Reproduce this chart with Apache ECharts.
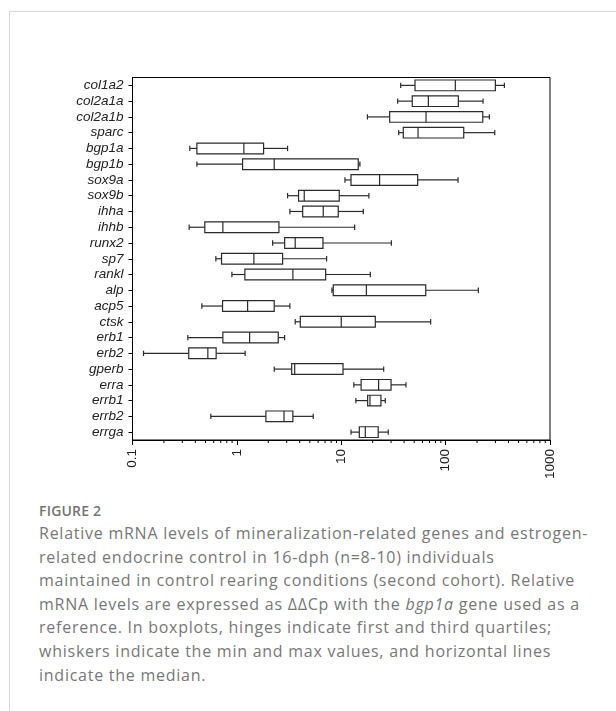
<!DOCTYPE html>
<html>
<head>
<meta charset="utf-8">
<script src="https://cdn.jsdelivr.net/npm/echarts@6/dist/echarts.min.js"></script>
<style>
  html, body { margin: 0; padding: 0; background: #fff; }
  #frame { position: absolute; left: 9px; top: 11px; width: 620px; height: 720px;
           border-left: 1px solid #d9d9d9; border-top: 1px solid #d9d9d9; }
  #chart { position: absolute; left: 0; top: 0; width: 616px; height: 500px; }
  #cap { position: absolute; left: 39px; top: 500px; white-space: nowrap;
         font-family: "Open Sans", sans-serif; color: #777; }
  #cap .fig { font-size: 14px; font-weight: 600; line-height: 22px; color: #737373; letter-spacing: 0.2px; }
  #cap .txt { font-size: 16px; line-height: 23.6px; letter-spacing: 0.75px; margin-top: 0px; }
</style>
</head>
<body>
<div id="frame"></div>
<div id="chart"></div>
<div id="cap">
  <div class="fig">FIGURE 2</div>
  <div class="txt">Relative mRNA levels of mineralization-related genes and estrogen-<br>related endocrine control in 16-dph (n=8-10) individuals<br>maintained in control rearing conditions (second cohort). Relative<br>mRNA levels are expressed as ΔΔCp with the <i>bgp1a</i> gene used as a<br>reference. In boxplots, hinges indicate first and third quartiles;<br>whiskers indicate the min and max values, and horizontal lines<br>indicate the median.</div>
</div>
<script>
const genes = ['col1a2','col2a1a','col2a1b','sparc','bgp1a','bgp1b','sox9a','sox9b','ihha','ihhb','runx2','sp7','rankl','alp','acp5','ctsk','erb1','erb2','gperb','erra','errb1','errb2','errga'];
const minVals    = [37.1, 34.7, 17.8, 35.5, 0.354, 0.414, 10.85, 3.06, 3.22, 0.349, 2.20, 0.629, 0.896, 8.14, 0.462, 3.62, 0.339, 0.1275, 2.28, 13.2, 13.8, 0.563, 12.4];
const q1Vals     = [50.9, 47.9, 29.1, 39.3, 0.414, 1.134, 12.4, 3.9, 4.27, 0.493, 2.87, 0.713, 1.193, 8.38, 0.729, 4.05, 0.734, 0.346, 3.35, 15.5, 17.9, 1.897, 14.9];
const medianVals = [123.9, 68.3, 64.9, 54.4, 1.167, 2.279, 23.3, 4.42, 6.72, 0.734, 3.62, 1.455, 3.44, 17.4, 1.267, 10.0, 1.324, 0.527, 3.58, 22.8, 18.85, 2.83, 17.0];
const q3Vals     = [299.6, 132.4, 226.9, 149.1, 1.803, 14.55, 54.0, 9.57, 9.36, 2.528, 6.68, 2.744, 7.09, 64.5, 2.279, 21.2, 2.49, 0.633, 10.4, 30.0, 24.0, 3.44, 22.6];
const maxVals    = [365.5, 228.4, 262.4, 295.6, 3.06, 15.1, 131.5, 18.4, 16.26, 13.44, 30.2, 7.24, 18.97, 205.8, 3.22, 71.9, 2.867, 1.2, 25.5, 41.7, 26.4, 5.39, 28.2];
const xTickLabels = ['0.1', '1', '10', '100', '1000'];
const minorTickVals = [0.2,0.3,0.4,0.5,0.6,0.7,0.8,0.9, 2,3,4,5,6,7,8,9, 20,30,40,50,60,70,80,90, 200,300,400,500,600,700,800,900];

const boxData = genes.map((g, i) => [i, minVals[i], q1Vals[i], medianVals[i], q3Vals[i], maxVals[i]]);

const chart = echarts.init(document.getElementById('chart'), null, { renderer: 'canvas' });
const stroke = '#2a2a2a';
chart.setOption({
  animation: false,
  grid: { left: 132.5, top: 77.5, width: 417.5, height: 362.5, show: true, borderColor: '#000', borderWidth: 1, backgroundColor: 'transparent' },
  xAxis: {
    type: 'log', logBase: 10, min: 0.1, max: 1000,
    axisLine: { show: true, lineStyle: { color: '#000', width: 1 } },
    axisTick: { show: true, length: 5, lineStyle: { color: '#000' } },
    splitLine: { show: false },
    axisLabel: {
      rotate: 90, margin: 9, color: '#222', fontFamily: 'Liberation Sans, Arial, sans-serif', fontSize: 13.5,
      formatter: v => xTickLabels[Math.round(Math.log10(v)) + 1]
    }
  },
  yAxis: {
    type: 'category', data: genes, inverse: true,
    axisLine: { show: true, lineStyle: { color: '#000', width: 1 } },
    axisTick: { show: true, alignWithLabel: true, interval: 0, length: 4, lineStyle: { color: '#000' } },
    axisLabel: { interval: 0, color: '#222', fontFamily: 'Liberation Sans, Arial, sans-serif', fontSize: 13.5, fontStyle: 'italic', margin: 9 }
  },
  series: [
    {
      type: 'custom',
      data: boxData,
      encode: { y: 0, x: [1, 2, 3, 4, 5] },
      renderItem: function (params, api) {
        const c = api.value(0);
        const pMin = api.coord([api.value(1), c]);
        const pQ1 = api.coord([api.value(2), c]);
        const pMed = api.coord([api.value(3), c]);
        const pQ3 = api.coord([api.value(4), c]);
        const pMax = api.coord([api.value(5), c]);
        const band = api.size([0, 1])[1];
        const h = band * 0.68;
        const cap = band * 0.17;
        const y = pMed[1];
        const ls = { stroke: stroke, lineWidth: 1.2, fill: null };
        return {
          type: 'group',
          children: [
            { type: 'line', shape: { x1: pMin[0], y1: y, x2: pQ1[0], y2: y }, style: ls },
            { type: 'line', shape: { x1: pQ3[0], y1: y, x2: pMax[0], y2: y }, style: ls },
            { type: 'line', shape: { x1: pMin[0], y1: y - cap, x2: pMin[0], y2: y + cap }, style: ls },
            { type: 'line', shape: { x1: pMax[0], y1: y - cap, x2: pMax[0], y2: y + cap }, style: ls },
            { type: 'rect', shape: { x: pQ1[0], y: y - h / 2, width: pQ3[0] - pQ1[0], height: h }, style: { stroke: stroke, lineWidth: 1.2, fill: '#fff' } },
            { type: 'line', shape: { x1: pMed[0], y1: y - h / 2, x2: pMed[0], y2: y + h / 2 }, style: ls }
          ]
        };
      }
    },
    {
      type: 'custom',
      data: minorTickVals.map(v => [v, 0]),
      encode: { x: 0, y: 1 },
      silent: true,
      renderItem: function (params, api) {
        const p = api.coord([api.value(0), 0]);
        const cs = params.coordSys;
        const yb = cs.y + cs.height;
        return { type: 'line', shape: { x1: p[0], y1: yb, x2: p[0], y2: yb + 3 }, style: { stroke: '#000', lineWidth: 1 } };
      }
    }
  ]
});
</script>
</body>
</html>
